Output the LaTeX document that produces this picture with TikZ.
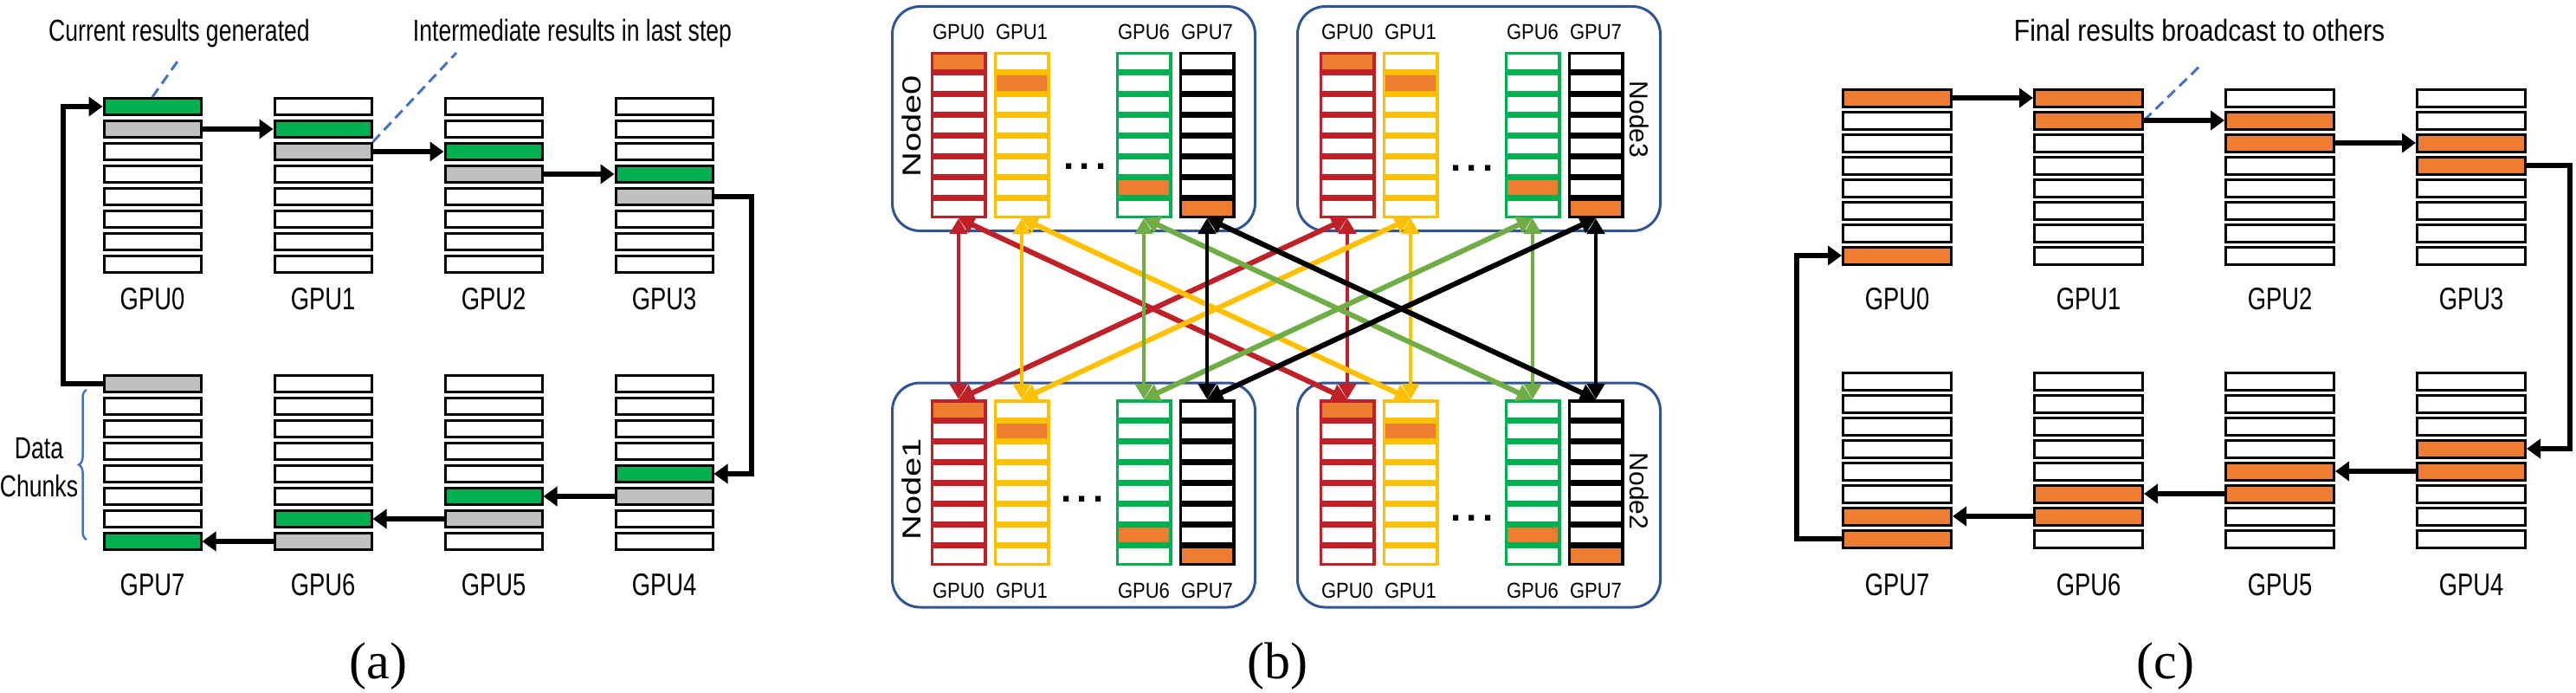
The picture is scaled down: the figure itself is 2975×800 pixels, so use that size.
\documentclass[tikz,border=0pt]{standalone}
\usepackage{fontspec}
\usepackage{graphicx}
\usetikzlibrary{arrows.meta, decorations.pathreplacing}

\newfontfamily\narrowsf{Liberation Sans}[FakeStretch=0.76]
\newfontfamily\notesf{Liberation Sans}[FakeStretch=0.86]
\newfontfamily\labsf{Liberation Sans}[FakeStretch=0.88]
\newfontfamily\nodesf{Liberation Sans}
\newfontfamily\capsf{Liberation Serif}

\definecolor{gpured}{RGB}{192,32,40}
\definecolor{gpugold}{RGB}{255,192,0}
\definecolor{gpugreen}{RGB}{0,176,80}
\definecolor{linkgreen}{RGB}{112,173,71}
\definecolor{chunkgreen}{RGB}{0,176,80}
\definecolor{chunkgray}{RGB}{191,191,191}
\definecolor{chunkorange}{RGB}{237,125,49}
\definecolor{nodeblue}{RGB}{47,85,151}
\definecolor{noteblue}{RGB}{68,114,196}

\tikzstyle{chunk} = [rectangle, draw=black, line width=3pt, fill=white, minimum width=112pt, minimum height=19pt, inner sep=0pt]
\tikzstyle{chunkc} = [chunk, minimum width=125pt, minimum height=20pt]
\tikzstyle{cell} = [rectangle, draw, line width=3.5pt, fill=white, minimum width=61.5pt, minimum height=20.5pt, inner sep=0pt]
\tikzstyle{nodebox} = [rectangle, rounded corners=32pt, draw=nodeblue, line width=3pt, minimum width=419pt, minimum height=259pt]
\tikzstyle{ring} = [line width=5.5pt, -{Triangle[length=16pt,width=22pt]}]
\tikzstyle{link} = [line width=6pt, {Triangle[length=18pt,width=20pt]}-{Triangle[length=18pt,width=20pt]}]
\tikzstyle{vlink} = [link, line width=4.5pt]
\tikzstyle{note} = [draw=noteblue, line width=3pt, dash pattern=on 12pt off 7pt]
\tikzstyle{brace} = [decorate, decoration={brace, amplitude=9pt}, draw=noteblue, line width=2.5pt]
\tikzstyle{notetext} = [font=\narrowsf\fontsize{35}{44}\selectfont, anchor=base, inner sep=0pt]
\tikzstyle{notetextc} = [notetext, font=\notesf\fontsize{35}{44}\selectfont]
\tikzstyle{gpulabel} = [notetext, font=\narrowsf\fontsize{36}{44}\selectfont]
\tikzstyle{celllabel} = [font=\labsf\fontsize{25}{30}\selectfont, anchor=base, inner sep=0pt]
\tikzstyle{nodelabel} = [font=\nodesf\fontsize{30}{36}\selectfont, inner sep=0pt]
\tikzstyle{dots} = [font=\nodesf\bfseries\fontsize{44}{50}\selectfont, inner sep=0pt]
\tikzstyle{caption} = [font=\capsf\fontsize{60}{72}\selectfont, anchor=base, inner sep=0pt]

\begin{document}
\begin{tikzpicture}[x=1pt, y=-1pt]
\useasboundingbox (0,0) rectangle (2975,800);

%% (a) anillo con resultados parciales
\foreach \i/\x/\y/\ly in {0/176/123/357, 1/373/123/357, 2/570/123/357, 3/767/123/357,
                          4/767/443/687, 5/570/443/687, 6/373/443/687, 7/176/443/687} {
  \pgfmathtruncatemacro{\nx}{mod(\i+1,8)}
  \foreach \r in {0,...,7} {
    \def\fc{white}
    \ifnum\r=\i \def\fc{chunkgreen}\fi
    \ifnum\r=\nx \def\fc{chunkgray}\fi
    \node (a\i-\r) [chunk, fill=\fc] at (\x,\y+26*\r) {};
  }
  \node (la\i) [gpulabel] at (\x,\ly) {GPU\i};
}
\node (noteA) [notetext] at (207,48) {Current results generated};
\node (noteB) [notetext] at (661,48) {Intermediate results in last step};
\coordinate (tipA) at (207,68);
\coordinate (tipB) at (527,61);
\draw [note] (a0-0.north) -- (tipA);
\draw [note] (a1-2.north east) -- (tipB);
\draw [brace] (100,623) -- (100,450);
\node (chunks) [notetext, align=center, anchor=center] at (45,540) {Data\\Chunks};

\coordinate (aL) at (73,0);
\coordinate (aR) at (868,0);
\draw [ring] (a0-1.east) -- (a1-1.west);
\draw [ring] (a1-2.east) -- (a2-2.west);
\draw [ring] (a2-3.east) -- (a3-3.west);
\draw [ring] (a3-4.east) -- (a3-4.east -| aR) |- (a4-4.east);
\draw [ring] (a4-5.west) -- (a5-5.east);
\draw [ring] (a5-6.west) -- (a6-6.east);
\draw [ring] (a6-7.west) -- (a7-7.east);
\draw [ring] (a7-0.west) -- (a7-0.west -| aL) |- (a0-0.west);
\node (capA) [caption] at (437,783) {(a)};

%% (b) cuatro nodos con cuatro GPUs visibles
\node (box0) [nodebox] at (1240,137) {};
\node (box3) [nodebox] at (1708,137) {};
\node (box1) [nodebox] at (1240,571.5) {};
\node (box2) [nodebox] at (1708,571.5) {};
\foreach \n/\s/\y/\ly in {0/0/72/46, 1/0/473/690, 3/449/72/46, 2/449/473/690} {
  \foreach \g/\x/\c in {0/1107/gpured, 1/1180/gpugold, 6/1321/gpugreen, 7/1394/black} {
    \foreach \r in {0,...,7} {
      \def\fc{white}
      \ifnum\r=\g \def\fc{chunkorange}\fi
      \node (n\n g\g-\r) [cell, draw=\c, fill=\fc] at (\x+\s,\y+24*\r) {};
    }
    \node (ln\n g\g) [celllabel] at (\x+\s,\ly) {GPU\g};
  }
}
\node (tag0) [nodelabel, rotate=90] at (1053,146) {\scalebox{1.33}[1]{Node0}};
\node (tag1) [nodelabel, rotate=90] at (1053,565) {\scalebox{1.33}[1]{Node1}};
\node (tag3) [nodelabel, rotate=-90] at (1893,138) {Node3};
\node (tag2) [nodelabel, rotate=-90] at (1893,567) {Node2};
\node (dots0) [dots] at (1253,192) {.\hspace{6pt}.\hspace{6pt}.};
\node (dots1) [dots] at (1250,576) {.\hspace{6pt}.\hspace{6pt}.};
\node (dots3) [dots] at (1700,194) {.\hspace{6pt}.\hspace{6pt}.};
\node (dots2) [dots] at (1700,598) {.\hspace{6pt}.\hspace{6pt}.};
\foreach \g/\c in {0/gpured, 1/gpugold, 6/linkgreen, 7/black} {
  \draw [vlink, color=\c] (n0g\g-7.south) -- (n1g\g-0.north);
  \draw [vlink, color=\c] (n3g\g-7.south) -- (n2g\g-0.north);
  \draw [link, color=\c] (n0g\g-7.south) -- (n2g\g-0.north);
  \draw [link, color=\c] (n1g\g-0.north) -- (n3g\g-7.south);
}
\node (capB) [caption] at (1475,783) {(b)};

%% (c) difusion del resultado final
\foreach \i/\x/\y/\ly in {0/2191/113/357, 1/2412/113/357, 2/2633/113/357, 3/2854/113/357,
                          4/2854/440/687, 5/2633/440/687, 6/2412/440/687, 7/2191/440/687} {
  \pgfmathtruncatemacro{\pv}{mod(\i+7,8)}
  \foreach \r in {0,...,7} {
    \def\fc{white}
    \ifnum\r=\i \def\fc{chunkorange}\fi
    \ifnum\r=\pv \def\fc{chunkorange}\fi
    \node (c\i-\r) [chunkc, fill=\fc] at (\x,\y+26*\r) {};
  }
  \node (lc\i) [gpulabel] at (\x,\ly) {GPU\i};
}
\node (noteC) [notetextc] at (2540,48) {Final results broadcast to others};
\coordinate (tipC) at (2544,73);
\draw [note] (c1-1.east) -- (tipC);

\coordinate (cL) at (2075,0);
\coordinate (cR) at (2968,0);
\draw [ring] (c0-0.east) -- (c1-0.west);
\draw [ring] (c1-1.east) -- (c2-1.west);
\draw [ring] (c2-2.east) -- (c3-2.west);
\draw [ring] (c3-3.east) -- (c3-3.east -| cR) |- (c4-3.east);
\draw [ring] (c4-4.west) -- (c5-4.east);
\draw [ring] (c5-5.west) -- (c6-5.east);
\draw [ring] (c6-6.west) -- (c7-6.east);
\draw [ring] (c7-7.west) -- (c7-7.west -| cL) |- (c0-7.west);
\node (capC) [caption] at (2501,783) {(c)};

\end{tikzpicture}
\end{document}
